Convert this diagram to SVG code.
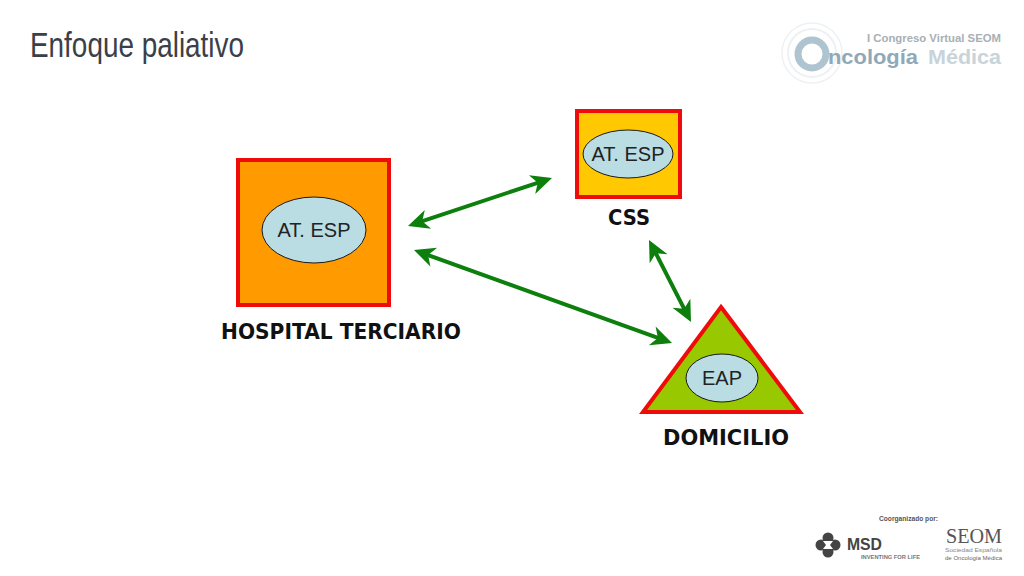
<svg xmlns="http://www.w3.org/2000/svg" width="1024" height="576" viewBox="0 0 1024 576">
<style>
.box{stroke:#f00b0b;stroke-width:4}
.oval{fill:#b9dde3;stroke:#1a1a1a;stroke-width:1}
.in{font-family:"Liberation Sans",Arial,sans-serif;fill:#222;text-anchor:middle}
.lab{font-family:"DejaVu Sans",Verdana,sans-serif;font-weight:700;fill:#111;text-anchor:middle}
.arr{fill:none;stroke:#0c7f0c;stroke-width:4}
.logo{font-family:"Liberation Sans",Arial,sans-serif}
</style>
<defs>
<path id="head" d="M0 0L-21 -10L-15 0L-21 10Z" fill="#0c7f0c"/>
</defs>
<rect width="1024" height="576" fill="#fff"/>
<text id="title" x="30" y="57" font-family="'Liberation Sans',Arial,sans-serif" font-size="35" fill="#3a3f4a" textLength="214" lengthAdjust="spacingAndGlyphs">Enfoque paliativo</text>
<g id="connectors">
<path class="arr" d="M419.4 222.2L540.6 181.8"/>
<use href="#head" transform="translate(552 178) rotate(-18.4)"/>
<use href="#head" transform="translate(408 226) rotate(161.6)"/>
<path class="arr" d="M425.3 254.1L660.7 338.9"/>
<use href="#head" transform="translate(672 343) rotate(19.8)"/>
<use href="#head" transform="translate(414 250) rotate(199.8)"/>
<path class="arr" d="M654.5 250.7L685.5 311.3"/>
<use href="#head" transform="translate(691 322) rotate(62.9)"/>
<use href="#head" transform="translate(649 240) rotate(242.9)"/>
</g>
<g id="hospital">
<rect class="box" x="238" y="160" width="151" height="145" fill="#ff9a00"/>
<ellipse class="oval" cx="314" cy="230" rx="52" ry="33"/>
<text class="in" x="314" y="237" font-size="20">AT. ESP</text>
<text class="lab" x="341" y="339" font-size="21" textLength="240" lengthAdjust="spacingAndGlyphs">HOSPITAL TERCIARIO</text>
</g>
<g id="css">
<rect class="box" x="577" y="111" width="103" height="86" fill="#ffc800"/>
<ellipse class="oval" cx="628" cy="154" rx="45" ry="24"/>
<text class="in" x="628" y="161" font-size="20">AT. ESP</text>
<text class="lab" x="629" y="225" font-size="21" textLength="42" lengthAdjust="spacingAndGlyphs">CSS</text>
</g>
<g id="domicilio">
<path class="box" d="M721 307L800 412H643Z" fill="#97c800"/>
<ellipse class="oval" cx="722" cy="378" rx="36" ry="24"/>
<text class="in" x="722" y="385" font-size="20">EAP</text>
<text class="lab" x="726" y="445" font-size="21" textLength="126" lengthAdjust="spacingAndGlyphs">DOMICILIO</text>
</g>
<g id="logo-congreso">
<circle cx="812" cy="53" r="30" fill="none" stroke="#eef1f3" stroke-width="1.5"/>
<circle cx="812" cy="53" r="24" fill="none" stroke="#eef1f3" stroke-width="2"/>
<circle cx="812" cy="54" r="14" fill="none" stroke="#aec4d0" stroke-width="7"/>
<text class="logo" x="867" y="42" font-size="11" font-weight="700" fill="#a9afb4" textLength="134" lengthAdjust="spacingAndGlyphs">I Congreso Virtual SEOM</text>
<text class="logo" x="828" y="64" font-size="21" font-weight="700" fill="#8fa9b8" textLength="90" lengthAdjust="spacingAndGlyphs">ncología</text>
<text class="logo" x="928" y="64" font-size="21" font-weight="700" fill="#c9d3da" textLength="73" lengthAdjust="spacingAndGlyphs">Médica</text>
</g>
<g id="logo-sponsors">
<text class="logo" x="879" y="521" font-size="7" font-weight="700" fill="#555" textLength="59" lengthAdjust="spacingAndGlyphs">Coorganizado por:</text>
<g fill="#444"><circle cx="828" cy="538" r="5.5"/><circle cx="828" cy="552" r="5.5"/><circle cx="821" cy="545" r="5.5"/><circle cx="835" cy="545" r="5.5"/></g>
<path d="M823 541H833L830 545L833 549H823L826 545Z" fill="#fff"/>
<text class="logo" x="847" y="550" font-size="17" font-weight="700" fill="#444" textLength="35" lengthAdjust="spacingAndGlyphs">MSD</text>
<text class="logo" x="861" y="559" font-size="6" font-weight="700" fill="#777" textLength="59" lengthAdjust="spacingAndGlyphs">INVENTING FOR LIFE</text>
<text x="946" y="543" font-family="'Liberation Serif',serif" font-size="21" fill="#555" textLength="56" lengthAdjust="spacingAndGlyphs">SEOM</text>
<text class="logo" x="945" y="552" font-size="6" fill="#888" textLength="57" lengthAdjust="spacingAndGlyphs">Sociedad Española</text>
<text class="logo" x="945" y="560" font-size="6" fill="#666" textLength="57" lengthAdjust="spacingAndGlyphs">de Oncología Médica</text>
</g>
</svg>
